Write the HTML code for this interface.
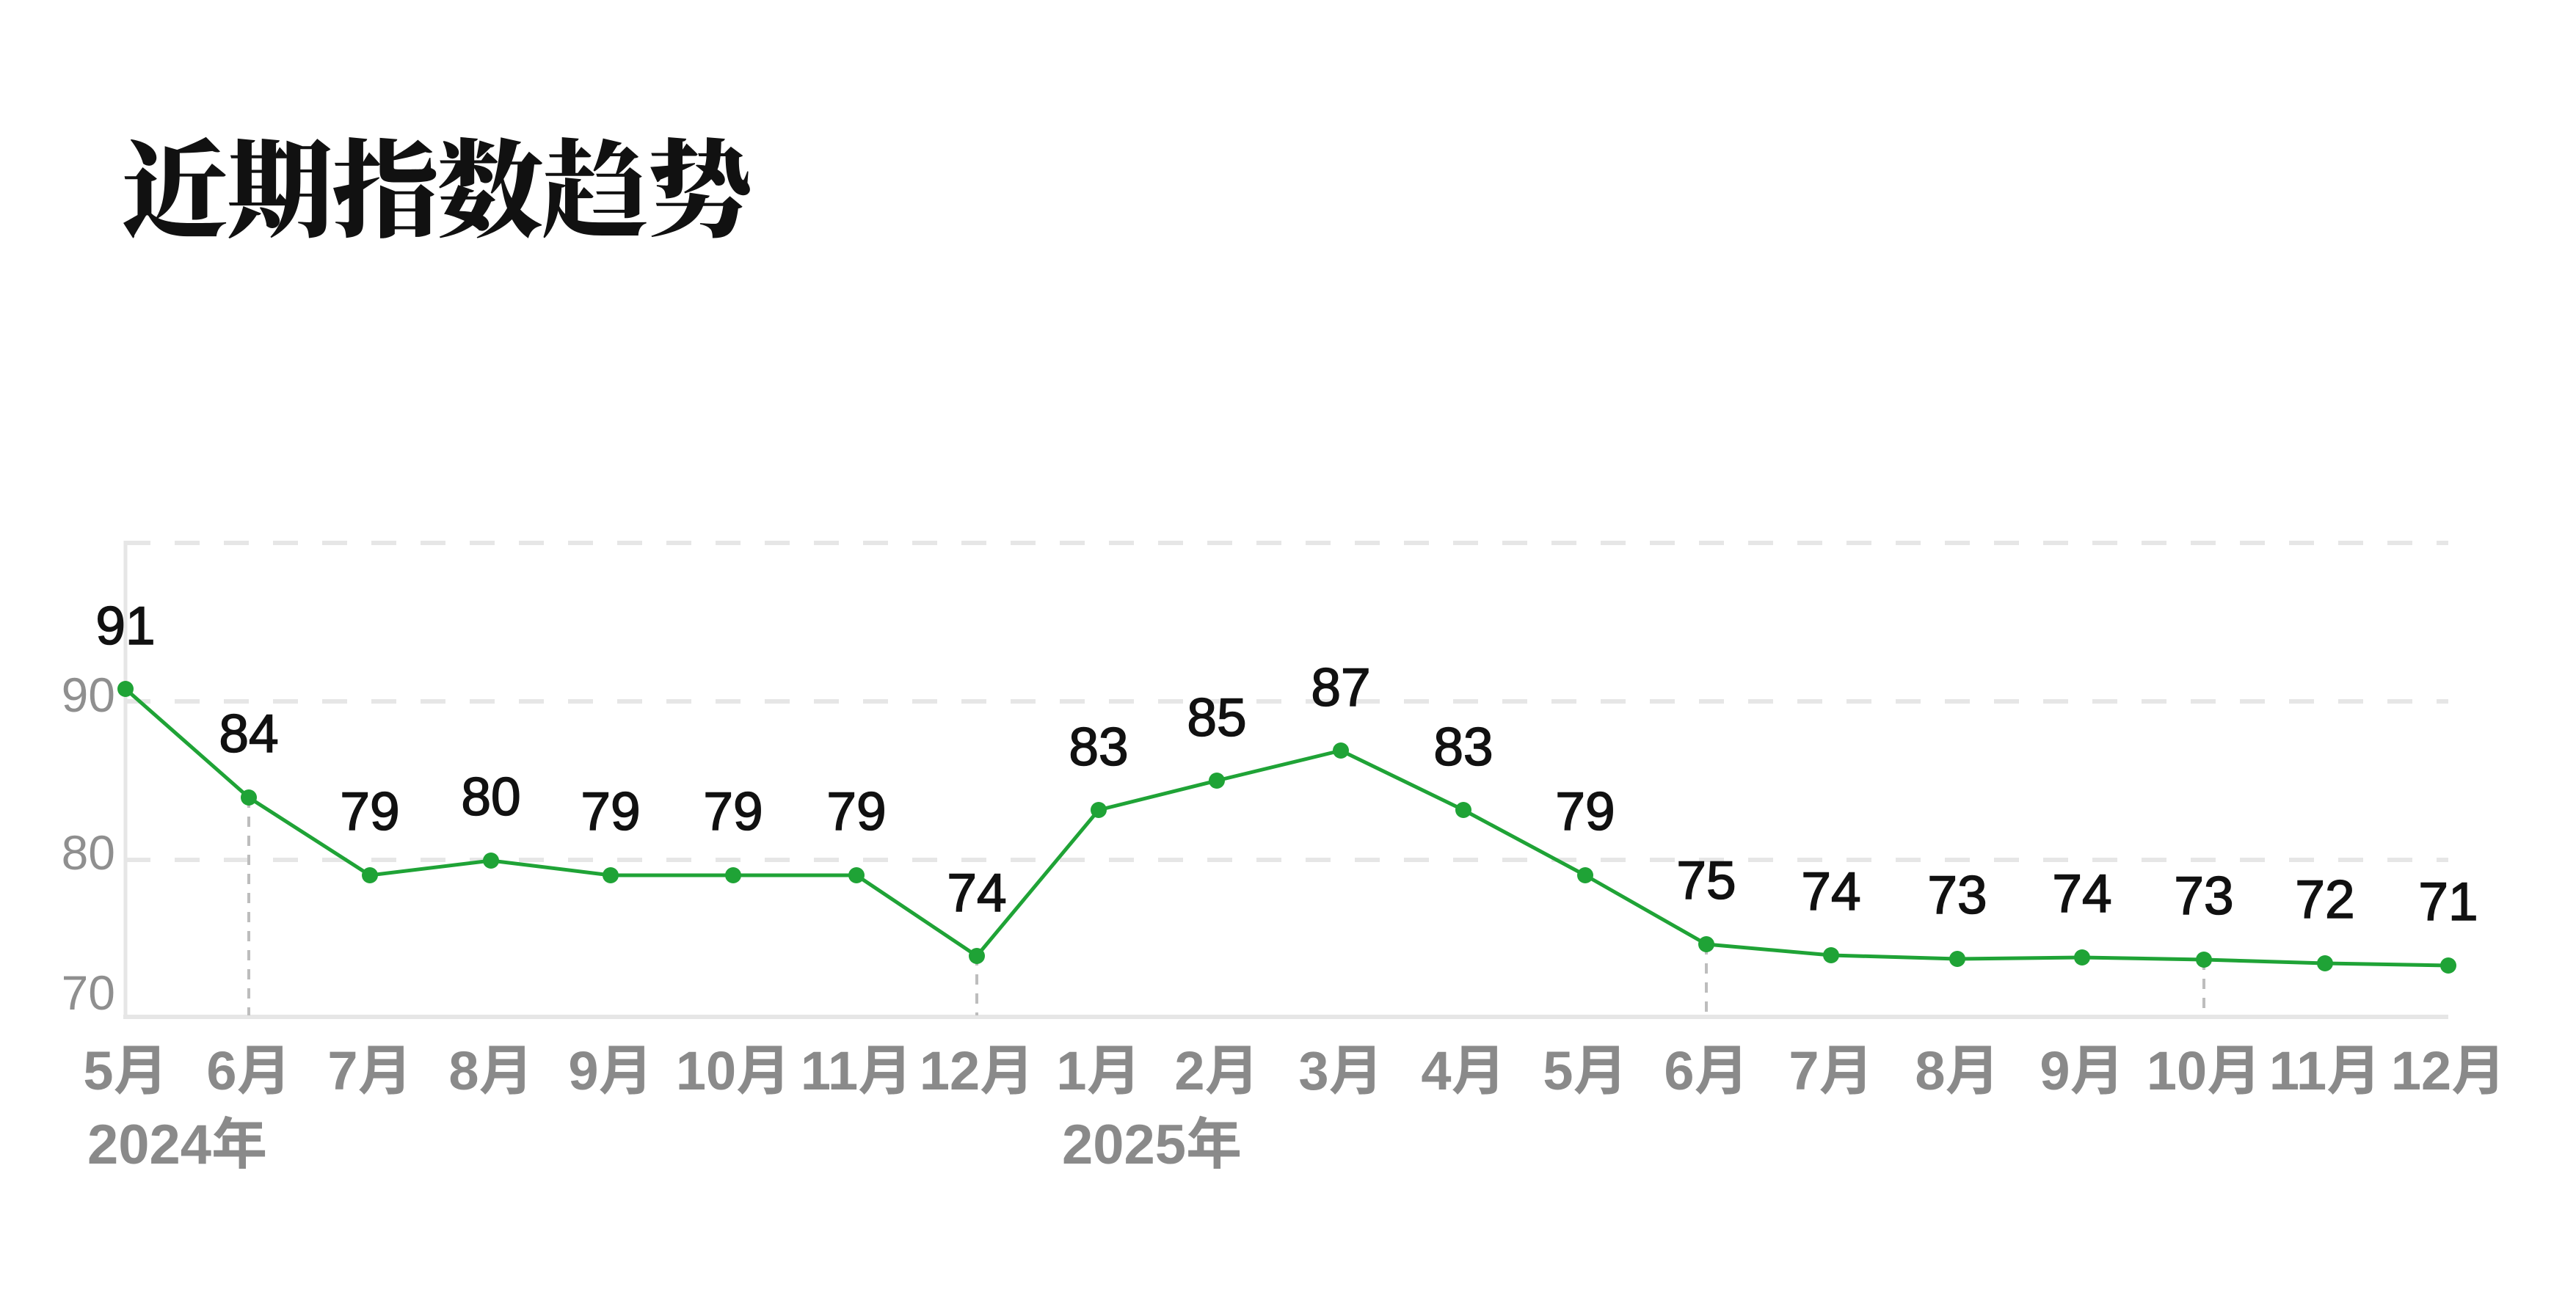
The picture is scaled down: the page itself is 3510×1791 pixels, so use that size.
<!DOCTYPE html>
<html><head><meta charset="utf-8"><style>
html,body{margin:0;padding:0;background:#fff;}
svg{display:block;}
</style></head><body>
<svg width="3510" height="1791" viewBox="0 0 3510 1791" xmlns="http://www.w3.org/2000/svg">
<rect width="3510" height="1791" fill="#fff"/>
<text x="166" y="311" font-family="'Noto Serif CJK SC','Liberation Serif',serif" font-weight="900" font-size="145" letter-spacing="-2" fill="#111">近期指数趋势</text>
<g stroke="#e6e6e6" stroke-width="6" stroke-dasharray="34 33">
<line x1="171" y1="740" x2="3336" y2="740"/>
<line x1="171" y1="956" x2="3336" y2="956"/>
<line x1="171" y1="1172" x2="3336" y2="1172"/>
</g>
<line x1="171" y1="737" x2="171" y2="1388" stroke="#e6e6e6" stroke-width="5"/>
<line x1="168" y1="1386" x2="3336" y2="1386" stroke="#e6e6e6" stroke-width="6"/>
<g stroke="#bdbdbd" stroke-width="4" stroke-dasharray="14 12">
<line x1="339" y1="1087" x2="339" y2="1384"/>
<line x1="1331" y1="1302" x2="1331" y2="1384"/>
<line x1="2325" y1="1287" x2="2325" y2="1384"/>
<line x1="3003" y1="1308" x2="3003" y2="1384"/>
</g>
<g font-family="'Liberation Sans',sans-serif" font-size="66" fill="#8f8f8f" text-anchor="end">
<text x="157" y="970">90</text>
<text x="157" y="1185">80</text>
<text x="157" y="1376">70</text>
</g>
<polyline fill="none" stroke="#1fa336" stroke-width="5" stroke-linejoin="round" points="171,939 339,1087 504,1193 669,1173 832,1193 999,1193 1167,1193 1331,1303 1497,1104 1658,1064 1827,1023 1994,1104 2160,1193 2325,1287 2495,1302 2667,1307 2837,1305 3003,1308 3168,1313 3336,1316"/>
<g fill="#1fa336">
<circle cx="171" cy="939" r="11"/><circle cx="339" cy="1087" r="11"/><circle cx="504" cy="1193" r="11"/><circle cx="669" cy="1173" r="11"/><circle cx="832" cy="1193" r="11"/><circle cx="999" cy="1193" r="11"/><circle cx="1167" cy="1193" r="11"/><circle cx="1331" cy="1303" r="11"/><circle cx="1497" cy="1104" r="11"/><circle cx="1658" cy="1064" r="11"/><circle cx="1827" cy="1023" r="11"/><circle cx="1994" cy="1104" r="11"/><circle cx="2160" cy="1193" r="11"/><circle cx="2325" cy="1287" r="11"/><circle cx="2495" cy="1302" r="11"/><circle cx="2667" cy="1307" r="11"/><circle cx="2837" cy="1305" r="11"/><circle cx="3003" cy="1308" r="11"/><circle cx="3168" cy="1313" r="11"/><circle cx="3336" cy="1316" r="11"/>
</g>
<g font-family="'Liberation Sans',sans-serif" font-size="73" fill="#111" stroke="#111" stroke-width="1.6" text-anchor="middle">
<text x="171" y="878">91</text><text x="339" y="1025">84</text><text x="504" y="1131">79</text><text x="669" y="1111">80</text><text x="832" y="1131">79</text><text x="999" y="1131">79</text><text x="1167" y="1131">79</text><text x="1331" y="1242">74</text><text x="1497" y="1043">83</text><text x="1658" y="1003">85</text><text x="1827" y="962">87</text><text x="1994" y="1043">83</text><text x="2160" y="1131">79</text><text x="2325" y="1225">75</text><text x="2495" y="1240">74</text><text x="2667" y="1245">73</text><text x="2837" y="1243">74</text><text x="3003" y="1246">73</text><text x="3168" y="1251">72</text><text x="3336" y="1254">71</text>
</g>
<g font-family="'Liberation Sans','Noto Sans CJK SC',sans-serif" font-weight="bold" font-size="74" fill="#8a8a8a" text-anchor="middle">
<text x="171" y="1485">5月</text><text x="339" y="1485">6月</text><text x="504" y="1485">7月</text><text x="669" y="1485">8月</text><text x="832" y="1485">9月</text><text x="999" y="1485">10月</text><text x="1167" y="1485">11月</text><text x="1331" y="1485">12月</text><text x="1497" y="1485">1月</text><text x="1658" y="1485">2月</text><text x="1827" y="1485">3月</text><text x="1994" y="1485">4月</text><text x="2160" y="1485">5月</text><text x="2325" y="1485">6月</text><text x="2495" y="1485">7月</text><text x="2667" y="1485">8月</text><text x="2837" y="1485">9月</text><text x="3003" y="1485">10月</text><text x="3168" y="1485">11月</text><text x="3336" y="1485">12月</text>
</g>
<g font-family="'Liberation Sans','Noto Sans CJK SC',sans-serif" font-weight="bold" font-size="76" fill="#8a8a8a">
<text x="119" y="1586">2024年</text>
<text x="1447" y="1586">2025年</text>
</g>
</svg>
</body></html>
